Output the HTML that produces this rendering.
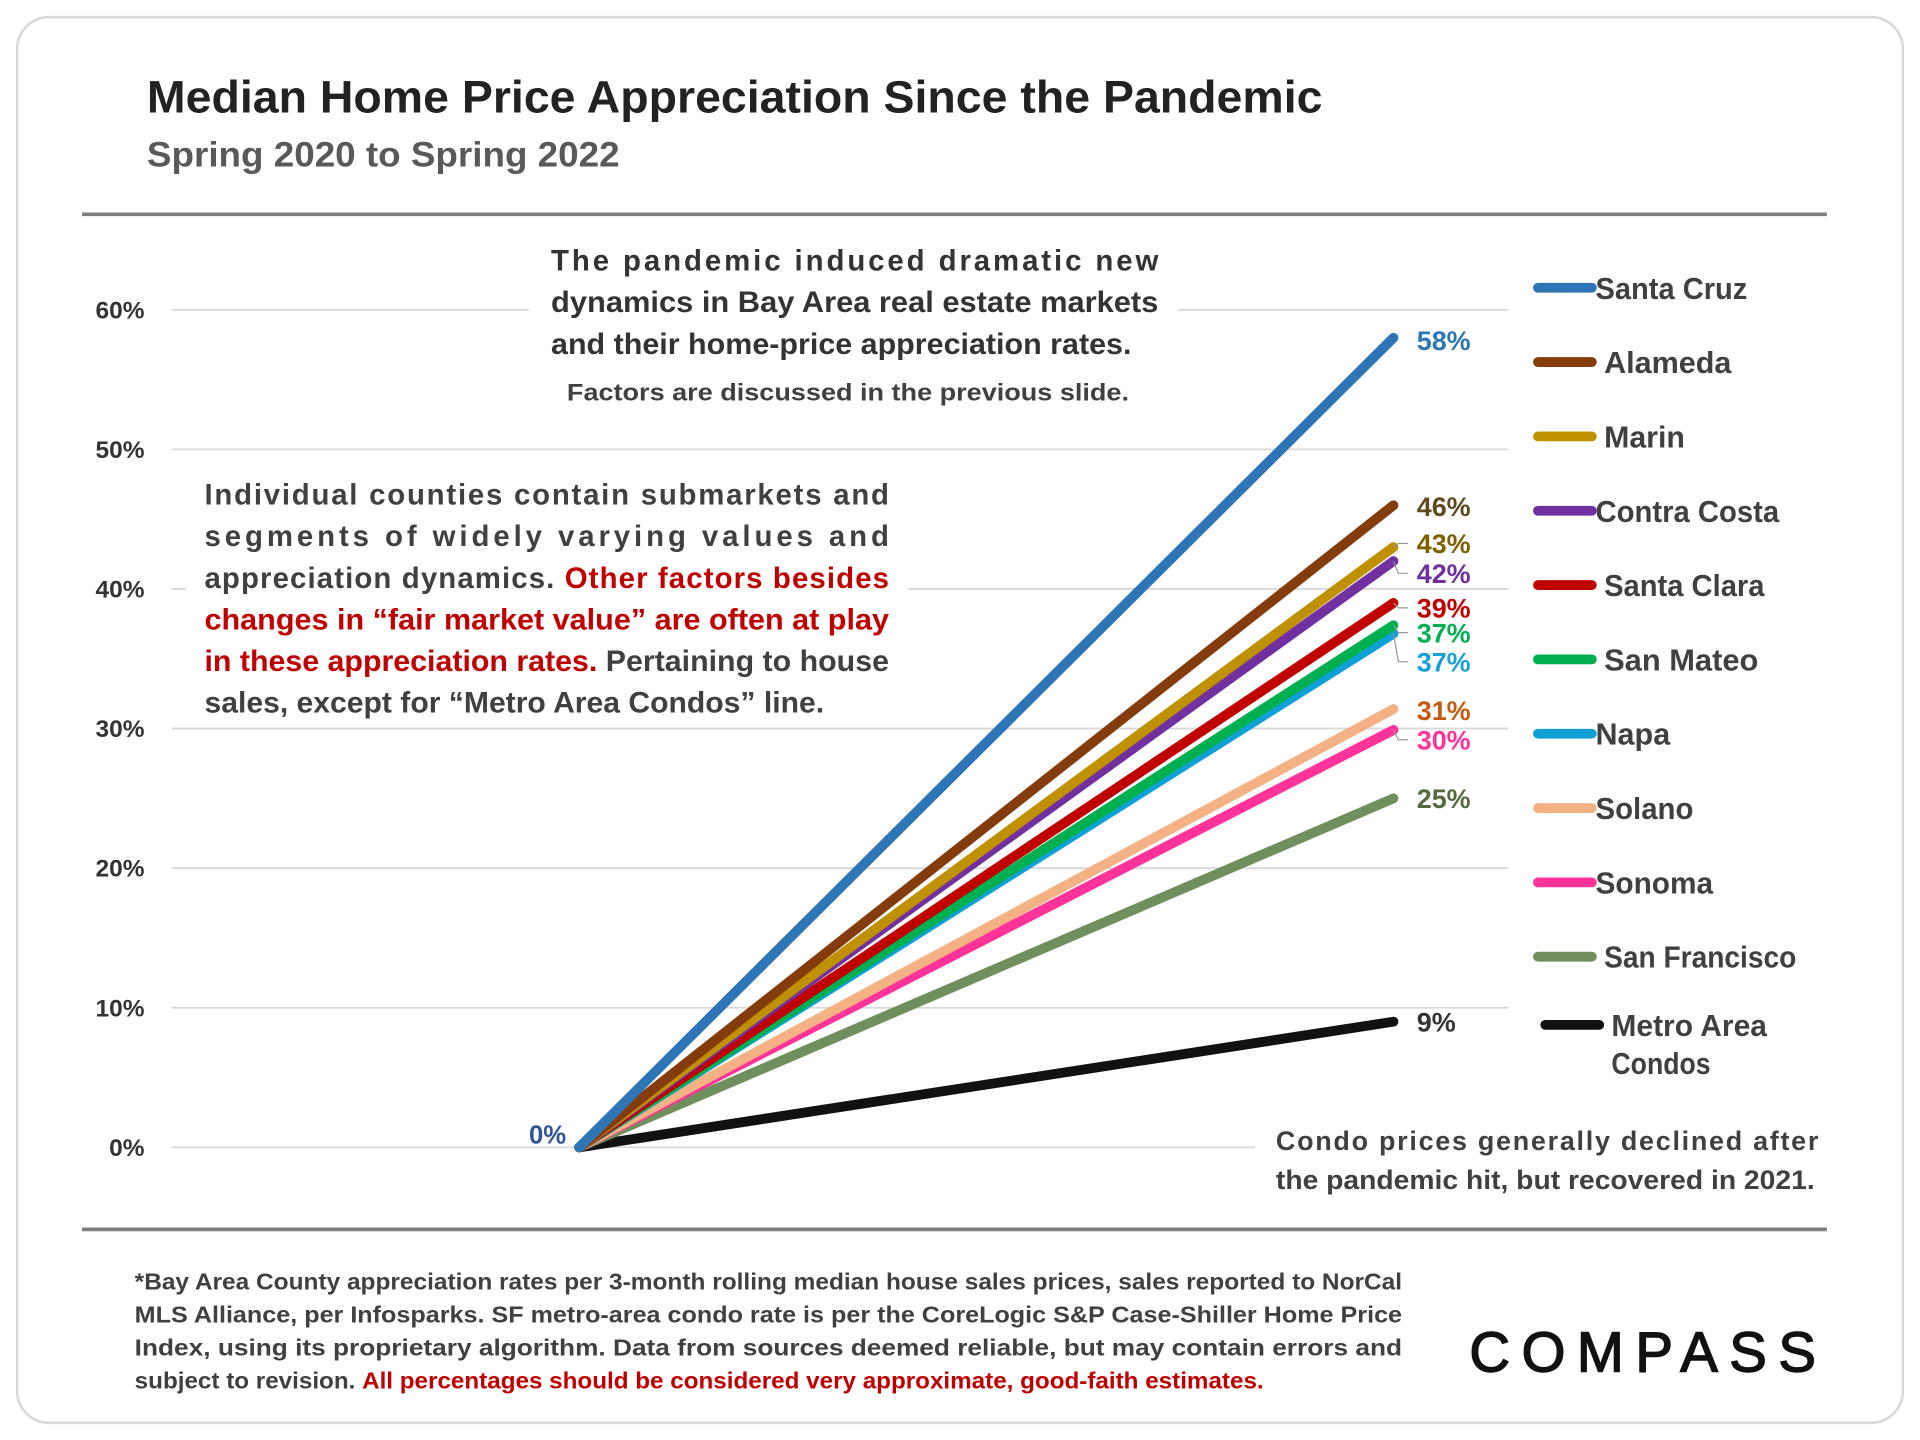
<!DOCTYPE html>
<html><head><meta charset="utf-8"><style>
html,body{margin:0;padding:0;background:#fff;}
svg{display:block;font-family:"Liberation Sans",sans-serif;}
</style></head><body>
<svg id="chart" width="1920" height="1440" viewBox="0 0 1568 1176" xmlns="http://www.w3.org/2000/svg">
<rect x="14" y="14" width="1540" height="1148" rx="26" fill="#fff" stroke="#d9d9d9" stroke-width="2"/>
<text x="120" y="92" font-size="37" font-weight="bold" fill="#222" textLength="960" lengthAdjust="spacingAndGlyphs">Median Home Price Appreciation Since the Pandemic</text>
<text x="120" y="136" font-size="29" font-weight="bold" fill="#595959" textLength="386" lengthAdjust="spacingAndGlyphs">Spring 2020 to Spring 2022</text>
<line x1="67" y1="175" x2="1492" y2="175" stroke="#7f7f7f" stroke-width="3"/>
<line x1="67" y1="1004" x2="1492" y2="1004" stroke="#7f7f7f" stroke-width="3"/>
<g id="grid"></g>
<rect x="432" y="196" width="530" height="145" fill="#fff"/>
<rect x="152" y="385" width="590" height="205" fill="#fff"/>
<rect x="1025" y="905" width="470" height="75" fill="#fff"/>
<g id="yaxis"></g>
<g id="series"></g>
<g id="labels"></g>
<text x="432" y="934" font-size="21" font-weight="bold" fill="#2f5597">0%</text>
<g id="legend"></g>
<g font-weight="bold" fill="#333">
<text x="450" y="221" font-size="24" textLength="496" lengthAdjust="spacing">The pandemic induced dramatic new</text>
<text x="450" y="255" font-size="24" textLength="496" lengthAdjust="spacingAndGlyphs">dynamics in Bay Area real estate markets</text>
<text x="450" y="289" font-size="24" textLength="474" lengthAdjust="spacingAndGlyphs">and their home-price appreciation rates.</text>
<text x="463" y="327" font-size="20" fill="#404040" textLength="459" lengthAdjust="spacingAndGlyphs">Factors are discussed in the previous slide.</text>
</g>
<g font-weight="bold" font-size="24" fill="#404040">
<text x="167" y="412" textLength="559" lengthAdjust="spacing">Individual counties contain submarkets and</text>
<text x="167" y="446" textLength="559" lengthAdjust="spacing">segments of widely varying values and</text>
<text x="167" y="480" textLength="559" lengthAdjust="spacing">appreciation dynamics. <tspan fill="#c00000">Other factors besides</tspan></text>
<text x="167" y="514" fill="#c00000" textLength="559" lengthAdjust="spacingAndGlyphs">changes in “fair market value” are often at play</text>
<text x="167" y="548" textLength="559" lengthAdjust="spacingAndGlyphs"><tspan fill="#c00000">in these appreciation rates.</tspan> Pertaining to house</text>
<text x="167" y="582" textLength="506" lengthAdjust="spacingAndGlyphs">sales, except for “Metro Area Condos” line.</text>
</g>
<g font-weight="bold" font-size="22" fill="#404040">
<text x="1042" y="939" textLength="443" lengthAdjust="spacing">Condo prices generally declined after</text>
<text x="1042" y="971" textLength="440" lengthAdjust="spacingAndGlyphs">the pandemic hit, but recovered in 2021.</text>
</g>
<g font-weight="bold" font-size="19" fill="#404040">
<text x="110" y="1053" textLength="1035" lengthAdjust="spacingAndGlyphs">*Bay Area County appreciation rates per 3-month rolling median house sales prices, sales reported to NorCal</text>
<text x="110" y="1080" textLength="1035" lengthAdjust="spacingAndGlyphs">MLS Alliance, per Infosparks. SF metro-area condo rate is per the CoreLogic S&amp;P Case-Shiller Home Price</text>
<text x="110" y="1107" textLength="1035" lengthAdjust="spacingAndGlyphs">Index, using its proprietary algorithm. Data from sources deemed reliable, but may contain errors and</text>
<text x="110" y="1134" textLength="922" lengthAdjust="spacingAndGlyphs">subject to revision. <tspan fill="#c00000">All percentages should be considered very approximate, good-faith estimates.</tspan></text>
</g>
<text x="1200" y="1120" font-size="46" fill="#111" stroke="#111" stroke-width="1.2" textLength="283" lengthAdjust="spacing">COMPASS</text>
</svg>
<script>
const categories = ["Santa Cruz","Alameda","Marin","Contra Costa","Santa Clara","San Mateo","Napa","Solano","Sonoma","San Francisco","Metro Area Condos"];
const startValues = [0,0,0,0,0,0,0,0,0,0,0];
const endValues = [58,46,43,42,39,37.4,36.8,31.4,29.9,25,9];
const printedValues = ["58%","46%","43%","42%","39%","37%","37%","31%","30%","25%","9%"];
const yTicks = [0,10,20,30,40,50,60];
const yTickLabels = ["0%","10%","20%","30%","40%","50%","60%"];

const colors = ["#2e75b6","#843c0c","#bf9000","#7030a0","#c00000","#00b050","#0ea0d6","#f4b183","#ff3399","#6f8f5c","#111111"];
const labelColors = ["#2e75b6","#5e4a1c","#7f6000","#7030a0","#c00000","#00b050","#1aa0d8","#c55a11","#ff3399","#556b3f","#333333"];
const labelNudge = [2,1,-3,10,4,6,23,1,8,0,0];
const hasLeader = [false,false,true,true,true,true,true,false,true,false,false];
const legendWidths = [124,104,66,150,131,126,61,80,96,157,0];
const NS = "http://www.w3.org/2000/svg";
const y0 = 937, perUnit = 11.4;
function yScale(v){ return y0 - v*perUnit; }
function xScale(i){ return i===0 ? 473 : 1138; }
function mk(tag, attrs, parent){ const e=document.createElementNS(NS,tag); for(const k in attrs) e.setAttribute(k,attrs[k]); parent.appendChild(e); return e; }

const grid=document.getElementById('grid'), yaxis=document.getElementById('yaxis');
yTicks.forEach((t,i)=>{
  const l=mk('line',{x1:140,x2:t===0?1025:1232,y1:yScale(t),y2:yScale(t),stroke:'#d9d9d9','stroke-width':1.5},grid);
  
  
  const tx=mk('text',{x:118,y:yScale(t)+7,'text-anchor':'end','font-size':20,'font-weight':'bold',fill:'#333'},yaxis);
  tx.textContent=yTickLabels[i];
  
  
});

const series=document.getElementById('series'), labels=document.getElementById('labels');
for(let i=categories.length-1;i>=0;i--){
  const ln=mk('line',{x1:xScale(0),y1:yScale(startValues[i]),x2:xScale(1),y2:yScale(endValues[i]),stroke:colors[i],'stroke-width':8,'stroke-linecap':'round'},series);
  
  
}
categories.forEach((c,i)=>{
  const ly=yScale(endValues[i])+labelNudge[i]+8;
  if(hasLeader[i]){
    const ey=yScale(endValues[i]);
    const p=mk('polyline',{points:`1138,${ey} 1142,${ly-8} 1150,${ly-8}`,fill:'none',stroke:'#999','stroke-width':1},labels);
    
    
  }
  const t=mk('text',{x:1157,y:ly,'font-size':22,'font-weight':'bold',fill:labelColors[i]},labels);
  t.textContent=printedValues[i];
  
  
});

const legend=document.getElementById('legend');
categories.forEach((c,i)=>{
  const ry = i<10 ? 235+i*60.7 : 837;
  const g=mk('g',{},legend);
  
  
  const sx = i===10 ? 1262 : 1256;
  mk('line',{x1:sx,x2:sx+44,y1:ry,y2:ry,stroke:colors[i],'stroke-width':8,'stroke-linecap':'round'},g);
  const tx = [0,3,6,7,8].includes(i) ? 1303 : (i===10?1316:1310);
  const t=mk('text',{x:tx,y:ry+9,'font-size':25,'font-weight':'bold',fill:'#404040'},g);
  if(i===10){ t.textContent='Metro Area'; t.setAttribute('textLength',127); t.setAttribute('lengthAdjust','spacingAndGlyphs'); const t2=mk('text',{x:1316,y:ry+40,'font-size':25,'font-weight':'bold',fill:'#404040',textLength:81,lengthAdjust:'spacingAndGlyphs'},g); t2.textContent='Condos'; }
  else { t.textContent=c; t.setAttribute('textLength',legendWidths[i]); t.setAttribute('lengthAdjust','spacingAndGlyphs'); }
});
</script>
</body></html>
